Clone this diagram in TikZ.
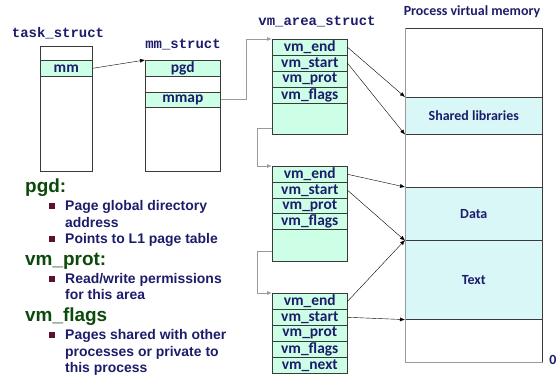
\documentclass[tikz,border=0pt]{standalone}
\usepackage{fontspec}
\setmainfont{Liberation Sans}
\newfontfamily\boxfont{Carlito}
\newfontfamily\codefont{Liberation Mono}
\usetikzlibrary{arrows.meta}

\definecolor{navy}{HTML}{1C1C6B}
\definecolor{headgreen}{HTML}{0B4A0B}
\definecolor{bulletred}{HTML}{5C1032}
\definecolor{mint}{HTML}{CCFFE6}
\definecolor{segcyan}{HTML}{D9F7F7}
\definecolor{frame}{HTML}{3A3A3A}
\definecolor{lightframe}{HTML}{9A9A9A}

\begin{document}
\begin{tikzpicture}[x=1bp,y=-1bp,
  field/.style={draw=frame, fill=mint, line width=0.6pt, minimum width=75bp,
    minimum height=16bp, inner sep=0pt, anchor=north west,
    font=\boxfont\bfseries\fontsize{15.5}{15.5}\selectfont, text=navy},
  plainbox/.style={draw=frame, fill=white, line width=0.6pt, inner sep=0pt, anchor=north west},
  structname/.style={font=\codefont\bfseries\fontsize{14}{14}\selectfont, text=navy},
  heading/.style={anchor=base west, inner sep=0pt,
    font=\bfseries\fontsize{19}{19}\selectfont, text=headgreen},
  bullettext/.style={anchor=base west, inner sep=0pt,
    font=\bfseries\fontsize{14}{14}\selectfont, text=navy},
  ptr/.style={draw=black, line width=0.4pt, -{Latex[length=5pt,width=4pt]}},
  link/.style={draw=lightframe, line width=1pt, -{Latex[length=5pt,width=4pt]}},
  segment/.style={draw=frame, fill=segcyan, line width=0.6pt, minimum width=137bp,
    inner sep=0pt, anchor=north west, font=\boxfont\bfseries\fontsize{14}{14}\selectfont, text=navy}
]
\useasboundingbox (0,0) rectangle (559,376);

% ---- task_struct ----
\node[structname] (tasklbl) at (58,33) {task\_struct};
\node[plainbox, minimum width=52bp, minimum height=125bp] (taskbox) at (40,46) {};
\node[field, minimum width=52bp] (mm) at (40,60) {mm};

% ---- mm_struct ----
\node[structname] (mmlbl) at (183,45) {mm\_struct};
\node[plainbox, minimum width=75bp, minimum height=111bp] (mmbox) at (145,60) {};
\node[field] (pgd) at (145,60) {pgd};
\node[field, minimum height=15bp] (mmap) at (145,92) {mmap};

% ---- vm_area_struct list ----
\node[structname] (vmalbl) at (317,22) {vm\_area\_struct};

\node[field] (aend)   at (272,39) {vm\_end};
\node[field] (astart) at (272,55) {vm\_start};
\node[field] (aprot)  at (272,71) {vm\_prot};
\node[field] (aflags) at (272,87) {vm\_flags};
\node[field, minimum height=31bp] (arest) at (272,103) {};

\node[field] (bend)   at (272,166) {vm\_end};
\node[field] (bstart) at (272,182) {vm\_start};
\node[field] (bprot)  at (272,198) {vm\_prot};
\node[field] (bflags) at (272,213) {vm\_flags};
\node[field, minimum height=32bp] (brest) at (272,229) {};

\node[field] (cend)   at (272,293) {vm\_end};
\node[field] (cstart) at (272,309) {vm\_start};
\node[field] (cprot)  at (272,325) {vm\_prot};
\node[field] (cflags) at (272,341) {vm\_flags};
\node[field] (cnext)  at (272,357) {vm\_next};

% ---- process virtual memory ----
\node[font=\boxfont\bfseries\fontsize{14}{14}\selectfont, text=navy] (pvmlbl) at (472,12) {Process virtual memory};
\node[draw=frame, fill=white, line width=0.6pt, minimum width=137bp, minimum height=334bp,
  inner sep=0pt, anchor=north west] (pvm) at (405,28) {};
\node[segment, minimum height=37bp] (shlib) at (405,97) {Shared libraries};
\node[segment, minimum height=53bp] (data) at (405,187) {Data};
\node[segment, minimum height=79bp] (text) at (405,240) {Text};
\draw[lightframe, line width=1pt] (pvm.north west) -- (pvm.south west);
\draw[lightframe, line width=1pt] (pvm.south west) -- (pvm.south east);
\node[font=\boxfont\bfseries\fontsize{14}{14}\selectfont, text=navy] (zero) at (553,360) {0};

% ---- pointers ----
\draw[ptr] (mm.east) -- (pgd.north west);
\draw[link] (mmap.east) -- ++(26,0) |- (aend.north west);
\draw[link] ([yshift=6bp]arest.south west) -- ++(-15,0) |- (bend.north west);
\draw[link] ([yshift=10bp]brest.south west) -- ++(-15,0) |- (cend.north west);

\draw[ptr] (aend.east) -- (shlib.north west);
\draw[ptr] (astart.east) -- (shlib.south west);
\draw[ptr] (bend.east) -- (data.north west);
\draw[ptr] (bstart.east) -- (data.south west);
\draw[ptr] (cend.east) -- (text.north west);
\draw[ptr] (cstart.east) -- (text.south west);

% ---- notes ----
\tikzset{sq/.style={fill=bulletred}}
\node[heading] (hpgd) at (25,192) {pgd:};
\fill[sq] (49,203) rectangle (55,209);
\node[bullettext] (t1) at (65,210) {Page global directory};
\node[bullettext] (t2) at (65,227) {address};
\fill[sq] (49,236) rectangle (55,242);
\node[bullettext] (t3) at (65,243) {Points to L1 page table};

\node[heading] (hprot) at (25,265) {vm\_prot:};
\fill[sq] (49,276) rectangle (55,282);
\node[bullettext] (t4) at (65,283) {Read/write permissions};
\node[bullettext] (t5) at (65,299) {for this area};

\node[heading] (hflags) at (25,321) {vm\_flags};
\fill[sq] (49,332) rectangle (55,338);
\node[bullettext] (t6) at (65,339) {Pages shared with other};
\node[bullettext] (t7) at (65,356) {processes or private to};
\node[bullettext] (t8) at (65,372) {this process};
\end{tikzpicture}
\end{document}
